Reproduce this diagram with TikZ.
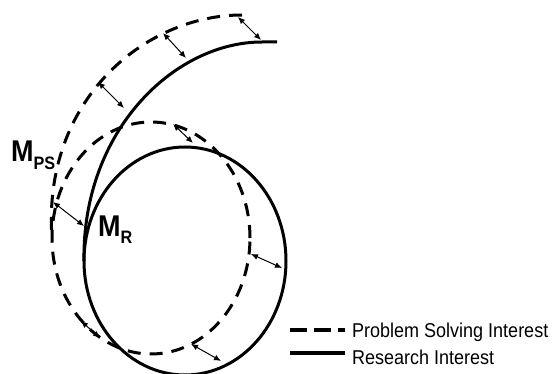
\documentclass[tikz,border=0pt]{standalone}
\usepackage{fontspec}
\setmainfont{Liberation Sans}
\usetikzlibrary{arrows.meta}
\tikzset{
  curve/.style={line width=3pt},
  dashcurve/.style={line width=3pt, dash pattern=on 13pt off 9pt},
  gap/.style={line width=1pt, {Latex[length=7pt,width=6pt]}-{Latex[length=7pt,width=6pt]}},
  lbl/.style={anchor=base west, inner sep=0pt},
}
\newcommand{\bigM}[2]{\scalebox{0.9}[1]{\fontsize{30}{30}\selectfont\bfseries M\raisebox{#2}{\fontsize{18}{18}\selectfont #1}}}
\newcommand{\legtext}[1]{\scalebox{0.9}[1]{\fontsize{20}{20}\selectfont #1}}
\begin{document}
\begin{tikzpicture}[x=1pt,y=-1pt]
\useasboundingbox (0,0) rectangle (555,374);
% problem solving interest (dashed)
\draw[dashcurve] (151,238) ellipse [x radius=99pt, y radius=116pt];
\draw[dashcurve] (242,15) .. controls (145,15) and (42,100) .. (52,238);
% research interest (solid)
\draw[curve] (185,261) ellipse [x radius=101pt, y radius=114pt];
\draw[curve] (277,42) -- (262,42) .. controls (175,42) and (82,130) .. (84,261);
% gap arrows
\coordinate (a1s) at (238,17);  \coordinate (a1e) at (261,40);
\coordinate (a2s) at (163,33);  \coordinate (a2e) at (186,58);
\coordinate (a3s) at (98,82);   \coordinate (a3e) at (124,108);
\coordinate (a4s) at (173,124); \coordinate (a4e) at (193,143);
\coordinate (a5s) at (53,202);  \coordinate (a5e) at (84,226);
\coordinate (a6s) at (251,254); \coordinate (a6e) at (282,268);
\coordinate (a7s) at (81,321);  \coordinate (a7e) at (100,338);
\coordinate (a8s) at (191,344); \coordinate (a8e) at (221,361);
\foreach \i in {1,...,8} \draw[gap] (a\i s) -- (a\i e);
% labels
\node[lbl] (mps) at (11,162) {\bigM{PS}{-8pt}};
\node[lbl] (mr) at (98,237) {\bigM{R}{-7pt}};
% legend
\coordinate (l1a) at (290,330); \coordinate (l1b) at (345,330);
\coordinate (l2a) at (290,353); \coordinate (l2b) at (345,353);
\draw[line width=3.5pt, dash pattern=on 17pt off 7pt] (l1a) -- (l1b);
\draw[line width=3.5pt] (l2a) -- (l2b);
\node[lbl] (t1) at (352,338) {\legtext{Problem Solving Interest}};
\node[lbl] (t2) at (352,365) {\legtext{Research Interest}};
\end{tikzpicture}
\end{document}
